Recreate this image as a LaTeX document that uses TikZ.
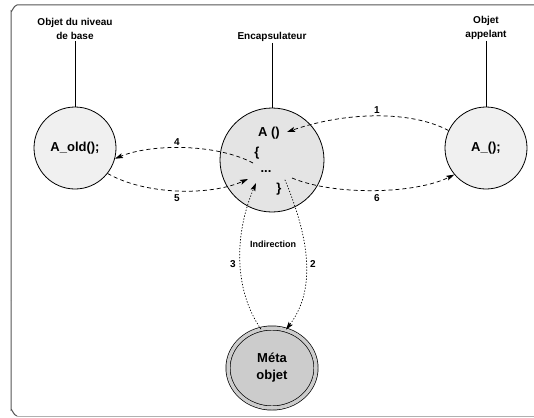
\documentclass[tikz,border=0pt]{standalone}
\usepackage{fontspec}
\setmainfont{Liberation Sans}
\usetikzlibrary{arrows.meta,shapes.geometric}
\definecolor{framedark}{HTML}{555555}
\definecolor{framelight}{HTML}{B0B0B0}
\definecolor{objfill}{HTML}{F0F0F0}
\definecolor{encfill}{HTML}{E4E4E4}
\definecolor{metafill}{HTML}{CCCCCC}
\tikzset{
  obj/.style={circle,draw=black,line width=0.8pt,fill=objfill,minimum size=82pt,inner sep=0pt,font=\fontsize{13}{15}\selectfont\bfseries},
  lab/.style={font=\fontsize{10}{14.5}\selectfont\bfseries,align=center,inner sep=1pt},
  code/.style={font=\fontsize{13}{15}\selectfont\bfseries,inner sep=1pt},
  num/.style={font=\fontsize{10}{12}\selectfont\bfseries,inner sep=0pt},
  flow/.style={line width=0.75pt,dash pattern=on 4pt off 3pt,-{Stealth[length=8pt,width=5pt,inset=1.5pt]}},
  meta/.style={line width=0.75pt,dash pattern=on 0.8pt off 2.2pt,line cap=round},
  stem/.style={line width=0.8pt}
}
\begin{document}
\begin{tikzpicture}[x=1pt,y=-1pt]
\useasboundingbox (0,0) rectangle (534,417);
% frame
\draw[framedark,line width=1pt] (11,300) -- (11,11) to[out=-90,in=180] (17,5) -- (540,5);
\draw[framedark,line width=1pt] (11,300) -- (11,410) to[out=90,in=180] (17,416);
\draw[framelight,line width=1pt] (17,416) -- (540,416);

% objects
\node[obj] (base) at (75,148) {A\_old();};
\node[obj,fill=encfill,minimum size=104pt] (enc) at (272,160) {};
\node[obj] (app) at (486,148) {A\_();};
\node[ellipse,draw=black,line width=0.7pt,double=metafill,double distance=3.5pt,fill=metafill,minimum width=88pt,minimum height=80pt,inner sep=0pt,align=center,font=\fontsize{13}{17}\selectfont\bfseries] (meta) at (272,368) {Méta\\objet};

% code inside the encapsulator
\node[code] (aa) at (269,133) {A ()};
\node[code] (ob) at (257,153) {\{};
\node[code] (dots) at (266,172) {...};
\node[code] (cb) at (279,189) {\}};

% labels and stems
\node[lab,anchor=south] (lbase) at (75,41) {Objet du niveau\\de base};
\node[lab,anchor=south] (lenc) at (272,43) {Encapsulateur};
\node[lab,anchor=south] (lapp) at (486,41) {Objet\\appelant};
\draw[stem] (lbase.south) -- (base.north);
\draw[stem] (lenc.south) -- (enc.north);
\draw[stem] (lapp.south) -- (app.north);

% connector ends inside the encapsulator
\coordinate (in1) at (287,132);
\coordinate (out4) at (253,163);
\coordinate (in5) at (248,179);
\coordinate (out6) at (292,178);
\coordinate (out2) at (285,180);
\coordinate (in3) at (256,183);

% flows
\draw[flow] (app.155) .. controls (410,110) and (345,112) .. (in1);
\draw[flow] (out4) .. controls (215,143) and (150,144) .. (base.-15);
\draw[flow] (base.-38) .. controls (145,195) and (210,196) .. (in5);
\draw[flow] (out6) .. controls (335,196) and (415,194) .. (app.220);
\draw[meta,-{Stealth[length=8pt,width=5pt,inset=1.5pt]}] (out2) .. controls (310,240) and (316,290) .. (meta.70);
\draw[meta,-{Stealth[length=8pt,width=5pt,inset=1.5pt]}] (meta.106) .. controls (234,290) and (234,235) .. (in3);

% numbers
\node[num] (n1) at (377,110) {1};
\node[num] (n2) at (313,264) {2};
\node[num] (n3) at (233,264) {3};
\node[num] (n4) at (177,142) {4};
\node[num] (n5) at (177,198) {5};
\node[num] (n6) at (377,198) {6};
\node[font=\fontsize{9}{11}\selectfont\bfseries,inner sep=0pt] (ind) at (273,244) {Indirection};
\end{tikzpicture}
\end{document}
